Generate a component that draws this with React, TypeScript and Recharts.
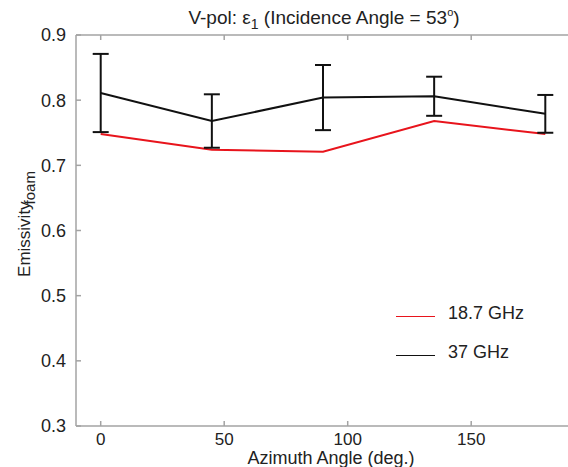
import { ComposedChart, Line, XAxis, YAxis, ErrorBar, Legend, Label } from 'recharts';

const azimuth = [0, 45, 90, 135, 180];
const emis187 = [0.748, 0.724, 0.721, 0.768, 0.748];
const emis37 = [0.811, 0.768, 0.804, 0.806, 0.779];
const err37 = [0.06, 0.041, 0.05, 0.03, 0.029];
const xTicks = [0, 50, 100, 150];
const yTicks = [0.3, 0.4, 0.5, 0.6, 0.7, 0.8, 0.9];

const data = azimuth.map((a, i) => ({
  az: a,
  v187: emis187[i],
  v37: emis37[i],
  e37: err37[i],
}));

const FONT = 'Arial, "Liberation Sans", Helvetica, sans-serif';
const AXIS = '#a3a3a3';

const legendItems = [
  { label: '18.7 GHz', color: '#e8141c' },
  { label: '37 GHz', color: '#111111' },
];

const LegendBox = () => (
  <div style={{ position: 'absolute', left: 396, top: 294, width: 170, fontFamily: FONT, fontSize: 18, color: '#222', whiteSpace: 'nowrap' }}>
    {legendItems.map((it) => (
      <div key={it.label} style={{ display: 'flex', alignItems: 'center', height: 39 }}>
        <div style={{ width: 39, height: 1.5, background: it.color, marginTop: 6, flex: 'none' }} />
        <span style={{ marginLeft: 13 }}>{it.label}</span>
      </div>
    ))}
  </div>
);

export default function App() {
  return (
    <div style={{ position: 'absolute', left: 0, top: 0, width: 568, height: 467, overflow: 'hidden', background: '#fff' }}>
      <ComposedChart width={580} height={467} data={data} margin={{ top: 34, right: 9, bottom: 0, left: 0 }}>
        <XAxis
          xAxisId="b"
          dataKey="az"
          type="number"
          domain={[-10, 190]}
          ticks={xTicks}
          height={41}
          tickSize={-5}
          tickMargin={12}
          stroke={AXIS}
          strokeWidth={1.5}
          tick={{ fill: '#222', fontSize: 17, fontFamily: FONT }}
        >
          <Label
            content={() => (
              <text x={331} y={464} textAnchor="middle" fontSize={18} fontFamily={FONT} fill="#222">
                Azimuth Angle (deg.)
              </text>
            )}
          />
        </XAxis>
        <XAxis
          xAxisId="t"
          dataKey="az"
          type="number"
          orientation="top"
          domain={[-10, 190]}
          ticks={xTicks}
          height={1}
          tickSize={-5}
          tickLine={{ stroke: AXIS }}
          tick={() => <g />}
          stroke={AXIS}
          strokeWidth={1.5}
        >
          <Label
            content={() => (
              <text x={324} y={24} textAnchor="middle" fontSize={19} fontFamily={FONT} fill="#222">
                V-pol: ε<tspan fontSize={14} dy={5}>1</tspan>
                <tspan dy={-5}> (Incidence Angle = 53</tspan>
                <tspan fontSize={11} dy={-8}>o</tspan>
                <tspan dy={8}>)</tspan>
              </text>
            )}
          />
        </XAxis>
        <YAxis
          yAxisId="l"
          type="number"
          domain={[0.3, 0.9]}
          ticks={yTicks}
          width={76}
          tickSize={-5}
          tickMargin={15}
          stroke={AXIS}
          strokeWidth={1.5}
          tickFormatter={(v: number) => v.toFixed(1)}
          tick={{ fill: '#222', fontSize: 18, fontFamily: FONT }}
        >
          <Label
            content={() => (
              <text
                x={30}
                y={224}
                transform="rotate(-90, 30, 224)"
                textAnchor="middle"
                fontSize={17}
                fontFamily={FONT}
                fill="#222"
              >
                Emissivity
                <tspan dx={-3} dy={5} fontSize={15}>foam</tspan>
              </text>
            )}
          />
        </YAxis>
        <YAxis
          yAxisId="r"
          orientation="right"
          type="number"
          domain={[0.3, 0.9]}
          ticks={yTicks}
          width={1}
          tickSize={-5}
          tick={() => <g />}
          stroke={AXIS}
          strokeWidth={1.5}
        />
        <Line
          xAxisId="b"
          yAxisId="l"
          dataKey="v187"
          name="18.7 GHz"
          stroke="#e8141c"
          strokeWidth={2}
          dot={false}
          isAnimationActive={false}
        />
        <Line
          xAxisId="b"
          yAxisId="l"
          dataKey="v37"
          name="37 GHz"
          stroke="#111111"
          strokeWidth={2}
          dot={false}
          isAnimationActive={false}
        >
          <ErrorBar dataKey="e37" width={8} stroke="#111111" strokeWidth={2} direction="y" />
        </Line>
        <Legend content={() => <LegendBox />} wrapperStyle={{ left: 0, top: 0, width: 0, height: 0 }} />
      </ComposedChart>
    </div>
  );
}
